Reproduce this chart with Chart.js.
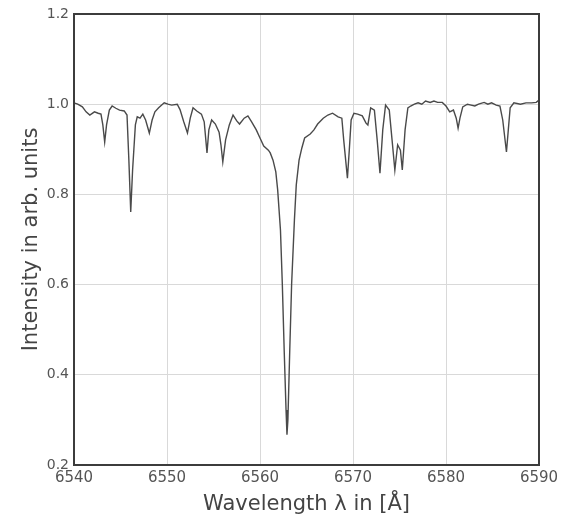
<!DOCTYPE html>
<html>
<head>
<meta charset="utf-8">
<script src="https://cdn.jsdelivr.net/npm/chart.js@4/dist/chart.umd.min.js"></script>
<style>
  html, body { margin: 0; padding: 0; background: #fff; }
  #wrap { width: 573px; height: 519px; }
</style>
</head>
<body>
<div id="wrap"><canvas id="c" width="573" height="519"></canvas></div>
<script>
// Wavelength in Angstrom
const wavelength = [
  6540.0, 6540.4, 6540.9, 6541.3, 6541.7, 6542.2, 6542.6, 6542.9, 6543.1, 6543.3,
  6543.5, 6543.8, 6544.1, 6544.5, 6544.9, 6545.4, 6545.7, 6545.9, 6546.1, 6546.3,
  6546.6, 6546.8, 6547.1, 6547.4, 6547.7, 6548.1, 6548.4, 6548.7, 6549.1, 6549.7,
  6550.1, 6550.5, 6551.1, 6551.4, 6551.8, 6552.2, 6552.5, 6552.8, 6553.2, 6553.7,
  6554.0, 6554.3, 6554.5, 6554.8, 6555.2, 6555.6, 6555.8, 6556.0, 6556.3, 6556.7,
  6557.1, 6557.5, 6557.8, 6558.3, 6558.7, 6559.1, 6559.6, 6560.0, 6560.4, 6560.9,
  6561.1, 6561.4, 6561.7, 6561.9, 6562.2, 6562.4, 6562.6, 6562.8, 6562.9, 6563.0,
  6563.2, 6563.4, 6563.7, 6563.9, 6564.2, 6564.5, 6564.8, 6565.4, 6565.8, 6566.2,
  6566.8, 6567.3, 6567.8, 6568.4, 6568.8, 6569.0, 6569.4, 6569.6, 6569.8, 6570.1,
  6570.5, 6571.0, 6571.4, 6571.6, 6571.9, 6572.3, 6572.6, 6572.9, 6573.2, 6573.5,
  6573.9, 6574.2, 6574.5, 6574.8, 6575.1, 6575.3, 6575.6, 6575.9, 6576.2, 6576.6,
  6577.0, 6577.4, 6577.8, 6578.3, 6578.7, 6579.1, 6579.6, 6580.0, 6580.4, 6580.8,
  6581.1, 6581.3, 6581.5, 6581.8, 6582.3, 6582.7, 6583.1, 6583.5, 6584.1, 6584.5,
  6584.9, 6585.4, 6585.8, 6586.1, 6586.5, 6586.7, 6586.9, 6587.3, 6588.0, 6588.6,
  6589.2, 6589.7, 6590.0
];
// Intensity in arbitrary units
const intensity = [
  1.003, 1.000, 0.994, 0.983, 0.976, 0.983, 0.980, 0.978, 0.954, 0.916,
  0.954, 0.987, 0.996, 0.991, 0.987, 0.985, 0.976, 0.876, 0.761, 0.854,
  0.954, 0.972, 0.969, 0.978, 0.965, 0.936, 0.965, 0.983, 0.992, 1.003,
  1.000, 0.998, 1.000, 0.988, 0.961, 0.936, 0.969, 0.992, 0.985, 0.978,
  0.961, 0.892, 0.943, 0.965, 0.956, 0.938, 0.910, 0.872, 0.921, 0.954,
  0.976, 0.963, 0.956, 0.969, 0.974, 0.961, 0.943, 0.925, 0.907, 0.898,
  0.892, 0.876, 0.850, 0.810, 0.721, 0.601, 0.455, 0.322, 0.267, 0.300,
  0.455, 0.601, 0.743, 0.821, 0.876, 0.903, 0.925, 0.934, 0.943, 0.956,
  0.969, 0.976, 0.980, 0.972, 0.969, 0.921, 0.836, 0.898, 0.965, 0.980,
  0.978, 0.974, 0.958, 0.954, 0.992, 0.987, 0.921, 0.847, 0.943, 0.998,
  0.987, 0.921, 0.854, 0.910, 0.898, 0.854, 0.943, 0.992, 0.996, 1.000,
  1.003, 1.000, 1.007, 1.004, 1.007, 1.004, 1.004, 0.996, 0.983, 0.987,
  0.969, 0.947, 0.969, 0.994, 1.000, 0.998, 0.996, 1.000, 1.004, 1.000,
  1.003, 0.998, 0.996, 0.965, 0.894, 0.943, 0.992, 1.003, 1.000, 1.003,
  1.003, 1.004, 1.009
];
const xTicks = [6540, 6550, 6560, 6570, 6580, 6590];
const yTicks = [0.2, 0.4, 0.6, 0.8, 1.0, 1.2];
const xTitle = 'Wavelength \u03bb in [\u00c5]';
const yTitle = 'Intensity in arb. units';

const points = wavelength.map((w, i) => ({ x: w, y: intensity[i] }));

const framePlugin = {
  id: 'frame',
  beforeDraw(chart) {
    const ctx = chart.ctx;
    ctx.save();
    ctx.fillStyle = '#ffffff';
    ctx.fillRect(0, 0, chart.width, chart.height);
    ctx.restore();
  },
  afterDraw(chart) {
    const a = chart.chartArea;
    const ctx = chart.ctx;
    ctx.save();
    ctx.strokeStyle = '#3c3c3c';
    ctx.lineWidth = 2;
    ctx.strokeRect(a.left, a.top, a.right - a.left, a.bottom - a.top);
    ctx.restore();
  }
};

new Chart(document.getElementById('c'), {
  type: 'line',
  data: {
    datasets: [{
      data: points,
      borderColor: '#4a4a4a',
      borderWidth: 1.4,
      pointRadius: 0,
      tension: 0,
      fill: false
    }]
  },
  options: {
    responsive: false,
    animation: false,
    devicePixelRatio: 1,
    layout: { padding: { left: 0, top: 14, right: 34, bottom: 0 } },
    plugins: { legend: { display: false }, tooltip: { enabled: false } },
    scales: {
      x: {
        type: 'linear',
        min: 6540, max: 6590,
        afterBuildTicks(scale) { scale.ticks = xTicks.map(v => ({ value: v })); },
        afterFit(scale) { scale.height = 54; },
        grid: { color: '#d9d9d9', lineWidth: 1, drawTicks: false },
        border: { display: false },
        ticks: {
          color: '#555',
          padding: 4,
          maxRotation: 0,
          font: { family: 'DejaVu Sans', size: 15 },
          callback: v => String(v)
        },
        title: {
          display: true,
          text: xTitle,
          color: '#444',
          font: { family: 'DejaVu Sans', size: 21 },
          padding: { top: 0, bottom: 2 }
        }
      },
      y: {
        type: 'linear',
        min: 0.2, max: 1.2,
        afterBuildTicks(scale) { scale.ticks = yTicks.map(v => ({ value: v })); },
        afterFit(scale) { scale.width = 74; },
        grid: { color: '#d9d9d9', lineWidth: 1, drawTicks: false },
        border: { display: false },
        ticks: {
          color: '#555',
          padding: 5,
          font: { family: 'DejaVu Sans', size: 14 },
          callback: v => v.toFixed(1)
        },
        title: {
          display: true,
          text: yTitle,
          color: '#444',
          font: { family: 'DejaVu Sans', size: 21 },
          padding: { top: 19, bottom: 0 }
        }
      }
    }
  },
  plugins: [framePlugin]
});
</script>
</body>
</html>
